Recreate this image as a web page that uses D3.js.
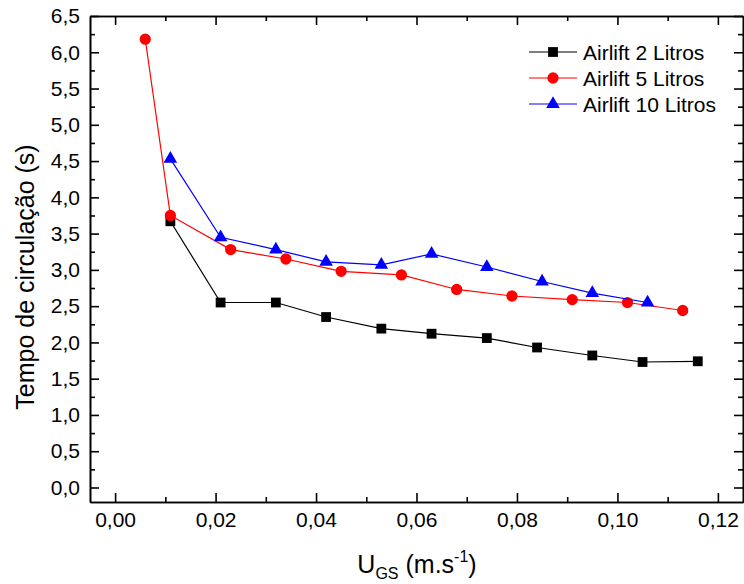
<!DOCTYPE html>
<html>
<head>
<meta charset="utf-8">
<script src="https://cdn.jsdelivr.net/npm/d3@7"></script>
<style>
	body { margin: 0; background: #fff; }
	svg { display: block; font-family: "Liberation Sans", Arial, sans-serif; }
	.axis path, .axis line { stroke: #000; stroke-width: 1.6; }
	.axis text { font-size: 21px; fill: #000; }
</style>
</head>
<body>
<div id="chart"></div>
<script>
// Airlift data
const ugs2 = [0.011, 0.021, 0.032, 0.042, 0.053, 0.063, 0.074, 0.084, 0.095, 0.105, 0.116];
const tempo2 = [3.67, 2.55, 2.55, 2.35, 2.19, 2.12, 2.06, 1.93, 1.82, 1.73, 1.74];

const ugs5 = [0.006, 0.011, 0.023, 0.034, 0.045, 0.057, 0.068, 0.079, 0.091, 0.102, 0.113];
const tempo5 = [6.18, 3.75, 3.28, 3.15, 2.98, 2.93, 2.73, 2.64, 2.59, 2.55, 2.44];

const ugs10 = [0.011, 0.021, 0.032, 0.042, 0.053, 0.063, 0.074, 0.085, 0.095, 0.106];
const tempo10 = [4.53, 3.45, 3.28, 3.11, 3.07, 3.22, 3.04, 2.84, 2.68, 2.55];

const seriesNames = ["Airlift 2 Litros", "Airlift 5 Litros", "Airlift 10 Litros"];

const xTicks = [0, 0.02, 0.04, 0.06, 0.08, 0.1, 0.12];
const xMinor = [0.01, 0.03, 0.05, 0.07, 0.09, 0.11];
const yTicks = [0, 0.5, 1, 1.5, 2, 2.5, 3, 3.5, 4, 4.5, 5, 5.5, 6, 6.5];
const yMinor = [0.25, 0.75, 1.25, 1.75, 2.25, 2.75, 3.25, 3.75, 4.25, 4.75, 5.25, 5.75, 6.25];

let width = 744, height = 584;
let plot = { left: 90, right: 743, top: 16, bottom: 502 };

let svg = d3.select("#chart").append("svg").attr("width", width).attr("height", height);

let x = d3.scaleLinear().domain([-0.005, 0.125]).range([plot.left, plot.right]);
let y = d3.scaleLinear().domain([-0.2, 6.5]).range([plot.bottom, plot.top]);

let locale = d3.formatLocale({ decimal: ",", thousands: ".", grouping: [3], currency: ["", ""] });
let fx = locale.format(".2f");
let fy = locale.format(".1f");

// axes, ticks pointing inward like Origin does
function drawAxis(axis, tx, ty) {
	return svg.append("g").attr("class", "axis").attr("transform", `translate(${tx},${ty})`).call(axis);
}

drawAxis(d3.axisBottom(x).tickValues(xTicks).tickFormat(fx).tickSizeInner(-9).tickSizeOuter(0).tickPadding(10), 0, plot.bottom);
drawAxis(d3.axisBottom(x).tickValues(xMinor).tickFormat("").tickSizeInner(-5).tickSizeOuter(0), 0, plot.bottom);
drawAxis(d3.axisTop(x).tickValues(xTicks).tickFormat("").tickSizeInner(-9).tickSizeOuter(0), 0, plot.top);
drawAxis(d3.axisTop(x).tickValues(xMinor).tickFormat("").tickSizeInner(-5).tickSizeOuter(0), 0, plot.top);

drawAxis(d3.axisLeft(y).tickValues(yTicks).tickFormat(fy).tickSizeInner(-9).tickSizeOuter(0).tickPadding(10), plot.left, 0);
drawAxis(d3.axisLeft(y).tickValues(yMinor).tickFormat("").tickSizeInner(-5).tickSizeOuter(0), plot.left, 0);
drawAxis(d3.axisRight(y).tickValues(yTicks).tickFormat("").tickSizeInner(-9).tickSizeOuter(0), plot.right, 0);
drawAxis(d3.axisRight(y).tickValues(yMinor).tickFormat("").tickSizeInner(-5).tickSizeOuter(0), plot.right, 0);

// axis titles
svg.append("text")
	.attr("transform", "translate(34,277) rotate(-90)")
	.attr("text-anchor", "middle")
	.style("font-size", "25px")
	.text("Tempo de circulação (s)");

let xt = svg.append("text")
	.attr("x", 417)
	.attr("y", 573)
	.attr("text-anchor", "middle")
	.style("font-size", "25px");
xt.append("tspan").text("U");
xt.append("tspan").attr("dy", 6).style("font-size", "16px").text("GS");
xt.append("tspan").attr("dy", -6).text(" (m.s");
xt.append("tspan").attr("dy", -11).style("font-size", "16px").text("-1");
xt.append("tspan").attr("dy", 11).text(")");

let series = [
	{ name: seriesNames[0], xs: ugs2, ys: tempo2, color: "#000000", symbol: d3.symbolSquare, size: 96 },
	{ name: seriesNames[1], xs: ugs5, ys: tempo5, color: "#ff0000", symbol: d3.symbolCircle, size: 100 },
	{ name: seriesNames[2], xs: ugs10, ys: tempo10, color: "#0000ff", symbol: d3.symbolTriangle, size: 80 },
];

let line = d3.line().x((d) => x(d[0])).y((d) => y(d[1]));

series.forEach((s) => {
	let pts = s.xs.map((v, i) => [v, s.ys[i]]);
	svg.append("path").datum(pts).attr("d", line).attr("fill", "none").attr("stroke", s.color).attr("stroke-width", 1.2);
	svg.append("g")
		.selectAll("path")
		.data(pts)
		.enter()
		.append("path")
		.attr("d", d3.symbol().type(s.symbol).size(s.size))
		.attr("transform", (d) => `translate(${x(d[0])},${y(d[1])})`)
		.attr("fill", s.color);
});

// legend
let legend = svg.append("g").attr("id", "legend");
series.forEach((s, i) => {
	let ly = 52 + i * 26;
	legend.append("line").attr("x1", 529).attr("x2", 577).attr("y1", ly).attr("y2", ly).attr("stroke", s.color).attr("stroke-width", 1.2);
	legend.append("path").attr("d", d3.symbol().type(s.symbol).size(s.size)).attr("transform", `translate(553,${ly})`).attr("fill", s.color);
	legend.append("text").attr("x", 583).attr("y", ly).attr("dy", "0.36em").style("font-size", "21px").text(s.name);
});
</script>
</body>
</html>
